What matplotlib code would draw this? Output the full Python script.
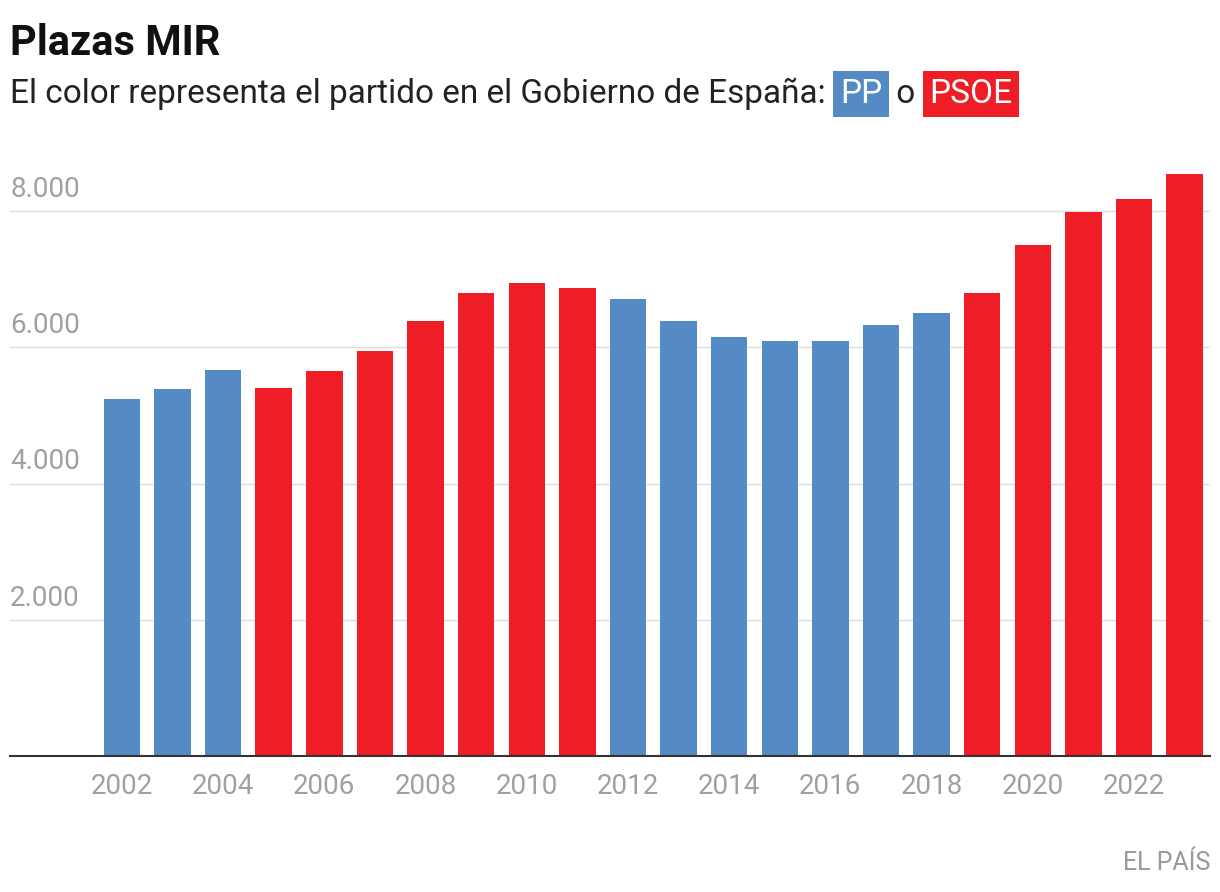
import matplotlib
matplotlib.use("agg")
import matplotlib.pyplot as plt

years = list(range(2002, 2024))
plazas = [5240, 5390, 5665, 5400, 5650, 5945, 6385, 6795, 6945, 6870, 6710,
          6385, 6150, 6090, 6090, 6330, 6505, 6795, 7500, 7985, 8175, 8545]
party = ["PP"] * 3 + ["PSOE"] * 7 + ["PP"] * 7 + ["PSOE"] * 5
colors = {"PP": "#548bc4", "PSOE": "#ee1d26"}
yticks = [2000, 4000, 6000, 8000]
ytick_labels = ["2.000", "4.000", "6.000", "8.000"]

plt.rcParams["font.family"] = ["Roboto", "DejaVu Sans"]
fig = plt.figure(figsize=(12.2, 8.92), dpi=100)
ax = fig.add_axes([10 / 1220, 1 - 756 / 892, 1200 / 1220, (756 - 150) / 892])

ax.bar(years, plazas, width=0.72, color=[colors[p] for p in party], zorder=2)
ax.set_xlim(1999.79, 2023.5)
ax.set_ylim(0, 8900)

for v, lab in zip(yticks, ytick_labels):
    ax.axhline(v, color="#dddddd", lw=1, zorder=1)
    ax.text(1999.79, v + 120, lab, color="#a0a0a0", fontsize=20, va="bottom", ha="left")
ax.set_yticks([])
ax.set_xticks(years[::2])
ax.set_xticklabels([str(y) for y in years[::2]], color="#a0a0a0", fontsize=20)
ax.tick_params(axis="x", length=0, pad=12)
for s in ["top", "right", "left"]:
    ax.spines[s].set_visible(False)
ax.spines["bottom"].set_color("#333333")
ax.spines["bottom"].set_linewidth(1.5)

fig.text(10 / 1220, 1 - 55 / 892, "Plazas MIR", fontsize=30, fontweight="bold", color="#111111")

# subtitle with coloured labels placed one after another
renderer = fig.canvas.get_renderer()
x = 10 / 1220
y = 1 - 103 / 892
parts = [("El color representa el partido en el Gobierno de España: ", None),
         ("PP", "PP"), (" o ", None), ("PSOE", "PSOE")]
for txt, p in parts:
    kw = dict(fontsize=24, color="#222222")
    if p:
        kw["color"] = "white"
        kw["bbox"] = dict(boxstyle="square,pad=0.2", fc=colors[p], ec="none")
        x += 6 / 1220
    t = fig.text(x, y, txt, **kw)
    bb = t.get_window_extent(renderer)
    x += bb.width / 1220 + (6 / 1220 if p else 0)

fig.text(1210 / 1220, 1 - 870 / 892, "EL PAÍS", fontsize=18, color="#999999", ha="right")

fig.savefig("out.png", dpi=100)
